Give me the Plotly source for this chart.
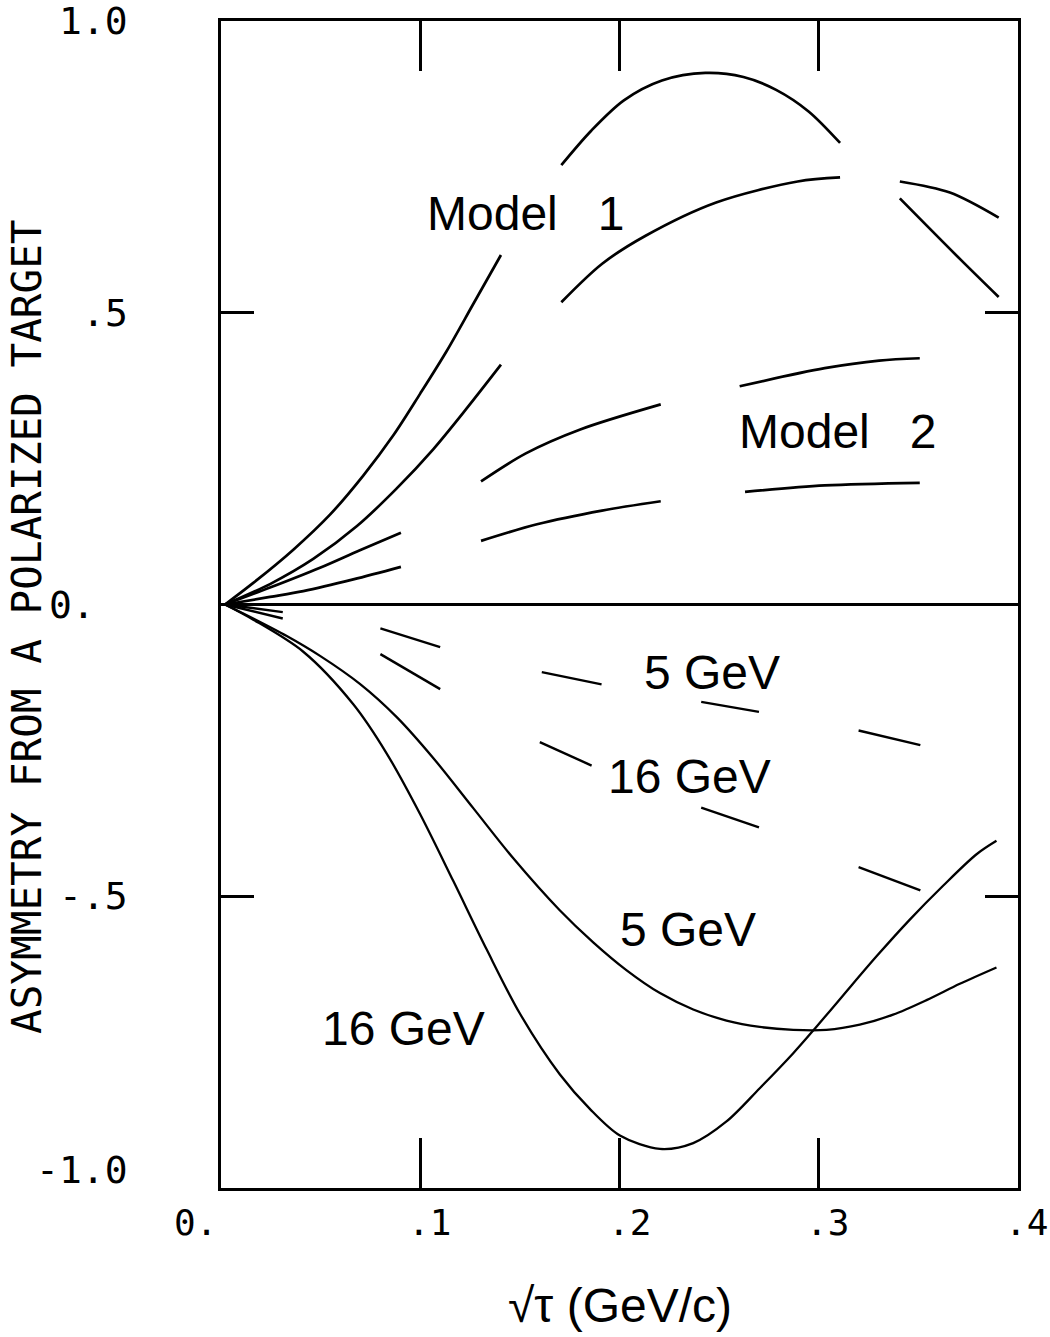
import plotly.graph_objects as go

# ---------------- data ----------------
# Model 1, upper curve (drawn in three pieces)
m1_upper_x = [[0.002, 0.0162, 0.0363, 0.0547, 0.0714, 0.0865, 0.0999, 0.1132, 0.1266, 0.1405],
              [0.1708, 0.1858, 0.2022, 0.2213, 0.2431, 0.2622, 0.2786, 0.2949, 0.3107],
              [0.3407, 0.3712, 0.3903]]
m1_upper_y = [[0.0, 0.037, 0.094, 0.154, 0.221, 0.290, 0.361, 0.434, 0.515, 0.599],
              [0.753, 0.812, 0.864, 0.898, 0.911, 0.904, 0.882, 0.845, 0.791],
              [0.696, 0.591, 0.527]]
# Model 1, lower curve
m1_lower_x = [[0.002, 0.0246, 0.0463, 0.0681, 0.0882, 0.1065, 0.1233, 0.1405],
              [0.1708, 0.1913, 0.2131, 0.2485, 0.2894, 0.3107],
              [0.3407, 0.3658, 0.3903]]
m1_lower_y = [[0.0, 0.035, 0.078, 0.134, 0.199, 0.266, 0.336, 0.411],
              [0.518, 0.584, 0.632, 0.689, 0.725, 0.732],
              [0.725, 0.706, 0.663]]
# Model 2, upper curve
m2_upper_x = [[0.002, 0.0246, 0.0497, 0.0697, 0.0903],
              [0.1305, 0.153, 0.1803, 0.2207],
              [0.2603, 0.303, 0.3303, 0.3507]]
m2_upper_y = [[0.0, 0.029, 0.063, 0.093, 0.123],
              [0.211, 0.259, 0.300, 0.343],
              [0.374, 0.405, 0.418, 0.422]]
# Model 2, lower curve
m2_lower_x = [[0.002, 0.0246, 0.0413, 0.0664, 0.0903],
              [0.1305, 0.1586, 0.1912, 0.2207],
              [0.263, 0.303, 0.3507]]
m2_lower_y = [[0.0, 0.013, 0.023, 0.043, 0.0645],
              [0.109, 0.1375, 0.161, 0.177],
              [0.193, 0.204, 0.2086]]
# negative side, dashed: 5 GeV and 16 GeV
neg_5_dash_x = [[0.002, 0.031], [0.080, 0.110], [0.161, 0.191], [0.241, 0.270], [0.320, 0.351]]
neg_5_dash_y = [[0.0, -0.013], [-0.041, -0.073], [-0.116, -0.137], [-0.167, -0.184], [-0.216, -0.241]]
neg_16_dash_x = [[0.002, 0.031], [0.080, 0.110], [0.160, 0.186], [0.241, 0.270], [0.320, 0.351]]
neg_16_dash_y = [[0.0, -0.024], [-0.085, -0.145], [-0.236, -0.276], [-0.348, -0.382], [-0.450, -0.490]]
# negative side, solid: 5 GeV
neg_5_x = [0.002, 0.0162, 0.033, 0.0497, 0.0697, 0.0882, 0.1065, 0.1266, 0.1467, 0.170, 0.1868,
           0.2036, 0.2203, 0.2370, 0.2537, 0.2704, 0.2872, 0.3039, 0.3206, 0.3373, 0.3541,
           0.3708, 0.3892]
neg_5_y = [0.0, -0.024, -0.054, -0.088, -0.136, -0.193, -0.263, -0.349, -0.435, -0.524, -0.579,
           -0.627, -0.666, -0.694, -0.713, -0.724, -0.729, -0.729, -0.720, -0.703, -0.678,
           -0.650, -0.622]
# negative side, solid: 16 GeV
neg_16_x = [0.002, 0.0162, 0.0413, 0.0664, 0.0831, 0.0999, 0.1166, 0.1333, 0.150, 0.170, 0.185,
            0.2002, 0.2203, 0.2370, 0.2537, 0.2704, 0.2872, 0.298, 0.3122, 0.3290, 0.3457,
            0.3624, 0.3792, 0.3892]
neg_16_y = [0.0, -0.026, -0.081, -0.171, -0.255, -0.359, -0.474, -0.591, -0.701, -0.805, -0.864,
            -0.910, -0.933, -0.923, -0.886, -0.829, -0.769, -0.727, -0.670, -0.603, -0.540,
            -0.482, -0.428, -0.405]

# curve labels
label_text = ["Model\u00a0\u00a0\u00a01", "Model\u00a0\u00a0\u00a02", "5 GeV", "16 GeV", "5 GeV", "16 GeV"]
label_x = [0.1530, 0.3096, 0.2464, 0.2353, 0.2343, 0.0918]
label_y = [0.6695, 0.2962, -0.1164, -0.2945, -0.5565, -0.726]

# axis ticks and tick labels
x_tick_vals = [0.1, 0.2, 0.3]
y_tick_vals = [-0.5, 0.5]
x_label_vals = [0.0, 0.1, 0.2, 0.3, 0.4]
x_label_text = ["0.", ".1", ".2", ".3", ".4"]
y_label_vals = [1.0, 0.5, 0.0, -0.5, -1.0]
y_label_text = ["1.0", ".5", "0.", "-.5", "-1.0"]

# ---------------- styling (pixel offsets, fonts) ----------------
x_label_shift = [-26, 9, 10, 9, 8]
y_label_xshift = [-91, -91, -124, -91, -91]
y_label_yshift = [0, 0, 0, 0, 18]
MONO = "DejaVu Sans Mono, monospace"
SANS = "Liberation Sans, Arial, Helvetica, sans-serif"


def join(segs):
    out = []
    for i, s in enumerate(segs):
        if i:
            out.append(None)
        out.extend(s)
    return out


fig = go.Figure()

curves = [
    (join(m1_upper_x), join(m1_upper_y), 2.7),
    (join(m1_lower_x), join(m1_lower_y), 2.7),
    (join(m2_upper_x), join(m2_upper_y), 2.7),
    (join(m2_lower_x), join(m2_lower_y), 2.7),
    (join(neg_5_dash_x), join(neg_5_dash_y), 2.4),
    (join(neg_16_dash_x), join(neg_16_dash_y), 2.4),
    (neg_5_x, neg_5_y, 2.3),
    (neg_16_x, neg_16_y, 2.3),
]
for xs, ys, w in curves:
    fig.add_trace(go.Scatter(x=xs, y=ys, mode="lines", connectgaps=False,
                             line=dict(color="black", width=w, shape="spline", smoothing=0.9),
                             showlegend=False, hoverinfo="skip"))

annotations = []
for t, x, y in zip(label_text, label_x, label_y):
    annotations.append(dict(x=x, y=y, xref="x", yref="y", text=t, showarrow=False,
                            xanchor="center", yanchor="middle",
                            font=dict(family=SANS, size=48, color="black")))

for v, t, dx in zip(x_label_vals, x_label_text, x_label_shift):
    annotations.append(dict(x=v, y=0, xref="x", yref="paper", text=t, showarrow=False,
                            xanchor="center", yanchor="middle", xshift=dx, yshift=-34,
                            font=dict(family=MONO, size=36, color="black")))

for v, t, dx, dy in zip(y_label_vals, y_label_text, y_label_xshift, y_label_yshift):
    annotations.append(dict(x=0, y=v, xref="paper", yref="y", text=t, showarrow=False,
                            xanchor="right", yanchor="middle", xshift=dx, yshift=dy,
                            font=dict(family=MONO, size=38, color="black")))

annotations.append(dict(x=0, y=0.4807, xref="paper", yref="paper",
                        text="ASYMMETRY FROM A POLARIZED TARGET", showarrow=False,
                        textangle=-90, xanchor="center", yanchor="middle", xshift=-194,
                        font=dict(family=MONO, size=41, color="black")))

annotations.append(dict(x=0.5006, y=-0.1003, xref="paper", yref="paper",
                        text="\u221a\u03c4 (GeV/c)", showarrow=False,
                        xanchor="center", yanchor="middle",
                        font=dict(family=SANS, size=48, color="black")))

axis_common = dict(showgrid=False, showline=True, linecolor="black", linewidth=3,
                   mirror="ticks", ticks="inside", tickcolor="black", tickwidth=3,
                   showticklabels=False)

fig.update_layout(
    width=1050, height=1337, autosize=False,
    margin=dict(l=221, r=32, t=21, b=149),
    paper_bgcolor="white", plot_bgcolor="white",
    xaxis=dict(range=[0, 0.4], tickvals=x_tick_vals, ticklen=50, zeroline=False, **axis_common),
    yaxis=dict(range=[-1, 1], tickvals=y_tick_vals, ticklen=33, zeroline=True,
               zerolinecolor="black", zerolinewidth=2.6, **axis_common),
    annotations=annotations,
)

fig.write_html("out.html", config={"displayModeBar": False},
               post_script="document.body.style.margin='0';document.body.style.overflow='hidden';")
